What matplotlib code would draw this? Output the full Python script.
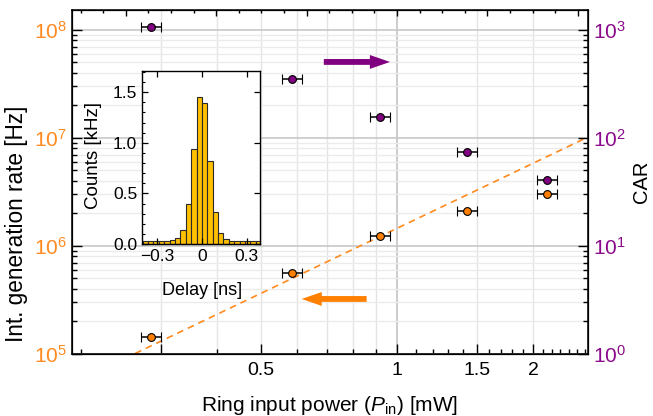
import numpy as np
import matplotlib
matplotlib.use('Agg')
import matplotlib.pyplot as plt
from matplotlib.ticker import FixedLocator, NullFormatter, FixedFormatter

plt.rcParams['font.family'] = ['Liberation Sans', 'DejaVu Sans']
plt.rcParams['mathtext.fontset'] = 'custom'
plt.rcParams['mathtext.rm'] = 'Liberation Sans'
plt.rcParams['mathtext.it'] = 'Liberation Sans:italic'
plt.rcParams['mathtext.bf'] = 'Liberation Sans:bold'

# ---------------- data ----------------
power_mw = [0.286, 0.586, 0.917, 1.426, 2.150]
power_rel_err = [0.052, 0.052, 0.052, 0.052, 0.052]
gen_rate_hz = [1.43e5, 5.6e5, 1.245e6, 2.09e6, 3.05e6]
car_values = [1064, 354, 155.6, 74.8, 40.5]
fit_coeff = 1.457e6      # Hz / mW^2
fit_exponent = 2.0

delay_centers_ns = [-0.414, -0.378, -0.342, -0.306, -0.270, -0.234, -0.198, -0.162,
                    -0.126, -0.090, -0.054, -0.018, 0.018, 0.054, 0.090, 0.126,
                    0.162, 0.198, 0.234, 0.270, 0.306, 0.342, 0.378]
counts_khz = [0.025, 0.025, 0.026, 0.026, 0.027, 0.028, 0.036, 0.055,
              0.137, 0.40, 0.941, 1.453, 1.394, 0.818, 0.316, 0.107,
              0.046, 0.033, 0.027, 0.026, 0.025, 0.025, 0.025]
bin_width_ns = 0.036

x_major = [0.3, 0.5, 1, 1.5, 2]
x_major_labels = ['', '0.5', '1', '1.5', '2']
x_minor = [0.2, 0.4, 0.6, 0.7, 0.8, 0.9, 1.1, 1.2, 1.3, 1.4, 1.6, 1.7, 1.8, 1.9,
           2.1, 2.2, 2.3, 2.4, 2.5, 2.6]
x_grid_light = [0.3, 0.4, 0.5, 0.6, 0.7, 0.8, 0.9, 1.5, 2]
x_grid_dark = [1]
left_ticks = [1e5, 1e6, 1e7, 1e8]
left_labels = ['$10^{5}$', '$10^{6}$', '$10^{7}$', '$10^{8}$']
right_ticks = [1, 10, 100, 1000]
right_labels = ['$10^{0}$', '$10^{1}$', '$10^{2}$', '$10^{3}$']

ORANGE = '#FF8A1F'
ORANGE_M = '#FF7F00'
PURPLE = '#8B0A8B'
PURPLE_M = '#7F007F'

XMIN, XMAX = 0.191, 2.646
YMIN, YMAX = 1e5, 1.53e8

fig = plt.figure(figsize=(6.53, 4.16), dpi=100)
ax = fig.add_axes([72/653, 1-354/416, 516/653, 344/416])
ax.set_xscale('log')
ax.set_yscale('log')
ax.set_xlim(XMIN, XMAX)
ax.set_ylim(YMIN, YMAX)

# grid
for gx in x_grid_light:
    ax.axvline(gx, color='#e4e4e4', lw=1.0, zorder=0)
for gx in x_grid_dark:
    ax.axvline(gx, color='#c4c4c4', lw=1.2, zorder=0)
ax.yaxis.grid(True, which='major', color='#c8c8c8', lw=1.2, zorder=0)
ax.yaxis.grid(True, which='minor', color='#ebebeb', lw=1.0, zorder=0)
ax.set_axisbelow(True)

ax.xaxis.set_major_locator(FixedLocator(x_major))
ax.xaxis.set_major_formatter(FixedFormatter(x_major_labels))
ax.xaxis.set_minor_locator(FixedLocator(x_minor))
ax.xaxis.set_minor_formatter(NullFormatter())
ax.yaxis.set_major_locator(FixedLocator(left_ticks))
ax.yaxis.set_major_formatter(FixedFormatter(left_labels))
ax.tick_params(axis='both', which='major', direction='in', length=7, width=1.0,
               labelsize=14, top=False, right=False)
ax.tick_params(axis='both', which='minor', direction='in', length=3.6, width=1.0,
               top=False, right=False)
ax.tick_params(axis='y', which='major', labelcolor=ORANGE, labelsize=15)
ax.tick_params(axis='x', which='major', pad=6)

p = np.array(power_mw)
xerr = [p - p/(1+np.array(power_rel_err)), p*np.array(power_rel_err)]

# fit line
pf = np.geomspace(XMIN, XMAX, 100)
ax.plot(pf, fit_coeff*pf**fit_exponent, ls=(0, (4, 3)), color=ORANGE, lw=1.2, zorder=2)

ax.errorbar(p, gen_rate_hz, xerr=xerr, fmt='o', ms=5.6, mfc=ORANGE_M, mec='black',
            mew=0.8, ecolor='black', elinewidth=1.1, capsize=3.8, capthick=1.1, zorder=5)

ax.set_xlabel(r'Ring input power ($P_{\rm in}$) [mW]', fontsize=15)
ax.xaxis.set_label_coords(0.5, -(394-354)/344)
ax.xaxis.label.set_verticalalignment('top')
ax.set_ylabel('Int. generation rate [Hz]', fontsize=16.3)
ax.yaxis.set_label_coords((28-72)/516, (354-224)/344)
for s in ax.spines.values():
    s.set_linewidth(1.1)

# right axis
ax2 = ax.twinx()
ax2.set_yscale('log')
ax2.set_ylim(YMIN/1e5, YMAX/1e5)
ax2.yaxis.set_major_locator(FixedLocator(right_ticks))
ax2.yaxis.set_major_formatter(FixedFormatter(right_labels))
ax2.tick_params(axis='y', which='major', direction='in', length=7, width=1.0,
                labelsize=15, labelcolor=PURPLE)
ax2.tick_params(axis='y', which='minor', direction='in', length=3.6, width=1.0)
ax2.errorbar(p, car_values, xerr=xerr, fmt='o', ms=5.6, mfc=PURPLE_M, mec='black',
             mew=0.8, ecolor='black', elinewidth=1.1, capsize=3.8, capthick=1.1, zorder=5)
ax2.set_ylabel('CAR', fontsize=14.5)
ax2.yaxis.set_label_coords((632-72)/516, 0.5)

# top axis (unlabelled ticks)
ax3 = ax.twiny()
ax3.set_xscale('log')
ax3.set_xlim(XMIN, XMAX)
k_major = np.arange(-4, 3)
k_minor = np.arange(-15, 9)
ax3.xaxis.set_major_locator(FixedLocator(10.0**(0.2*k_major)))
ax3.xaxis.set_minor_locator(FixedLocator(10.0**(0.05*k_minor)))
ax3.xaxis.set_major_formatter(NullFormatter())
ax3.xaxis.set_minor_formatter(NullFormatter())
ax3.tick_params(axis='x', which='major', direction='in', length=4, width=1.0)
ax3.tick_params(axis='x', which='minor', direction='in', length=2.5, width=1.0)

# arrows
ax.annotate('', xy=(0.6163, 0.849), xytext=(0.488, 0.849), xycoords='axes fraction',
            arrowprops=dict(arrowstyle='simple,head_length=1.45,head_width=1.0,tail_width=0.42',
                            color='#800080', lw=0, mutation_scale=10, shrinkA=0, shrinkB=0))
ax.annotate('', xy=(0.445, 0.160), xytext=(0.571, 0.160), xycoords='axes fraction',
            arrowprops=dict(arrowstyle='simple,head_length=1.45,head_width=1.0,tail_width=0.42',
                            color='#FF8000', lw=0, mutation_scale=10, shrinkA=0, shrinkB=0))

# inset
axi = fig.add_axes([142/653, 1-244/416, 118/653, 173/416])
axi.set_zorder(10)
axi.bar(delay_centers_ns, counts_khz, width=bin_width_ns, color='#FFC000',
        edgecolor='#2a2a2a', linewidth=0.8)
axi.set_xlim(-0.40, 0.388)
axi.set_ylim(0, 1.71)
axi.set_xticks([-0.3, 0, 0.3])
axi.set_xticklabels(['\u22120.3', '0', '0.3'])
axi.set_yticks([0.0, 0.5, 1.0, 1.5])
axi.set_yticklabels(['0.0', '0.5', '1.0', '1.5'])
axi.yaxis.set_minor_locator(FixedLocator([0.1, 0.2, 0.3, 0.4, 0.6, 0.7, 0.8, 0.9,
                                          1.1, 1.2, 1.3, 1.4, 1.6, 1.7]))
axi.tick_params(which='major', direction='in', length=4, width=0.9, labelsize=12.5,
                top=True, right=True)
axi.tick_params(which='minor', direction='in', length=2.2, width=0.8, left=True)
axi.set_xlabel('Delay [ns]', fontsize=13)
axi.xaxis.set_label_coords((202-142)/118, -(282-244)/173)
axi.xaxis.label.set_verticalalignment('top')
axi.set_ylabel('Counts [kHz]', fontsize=13.5)
axi.yaxis.set_label_coords((102-142)/118, 0.51)
for s in axi.spines.values():
    s.set_linewidth(1.0)

fig.savefig('out.png', dpi=100)
